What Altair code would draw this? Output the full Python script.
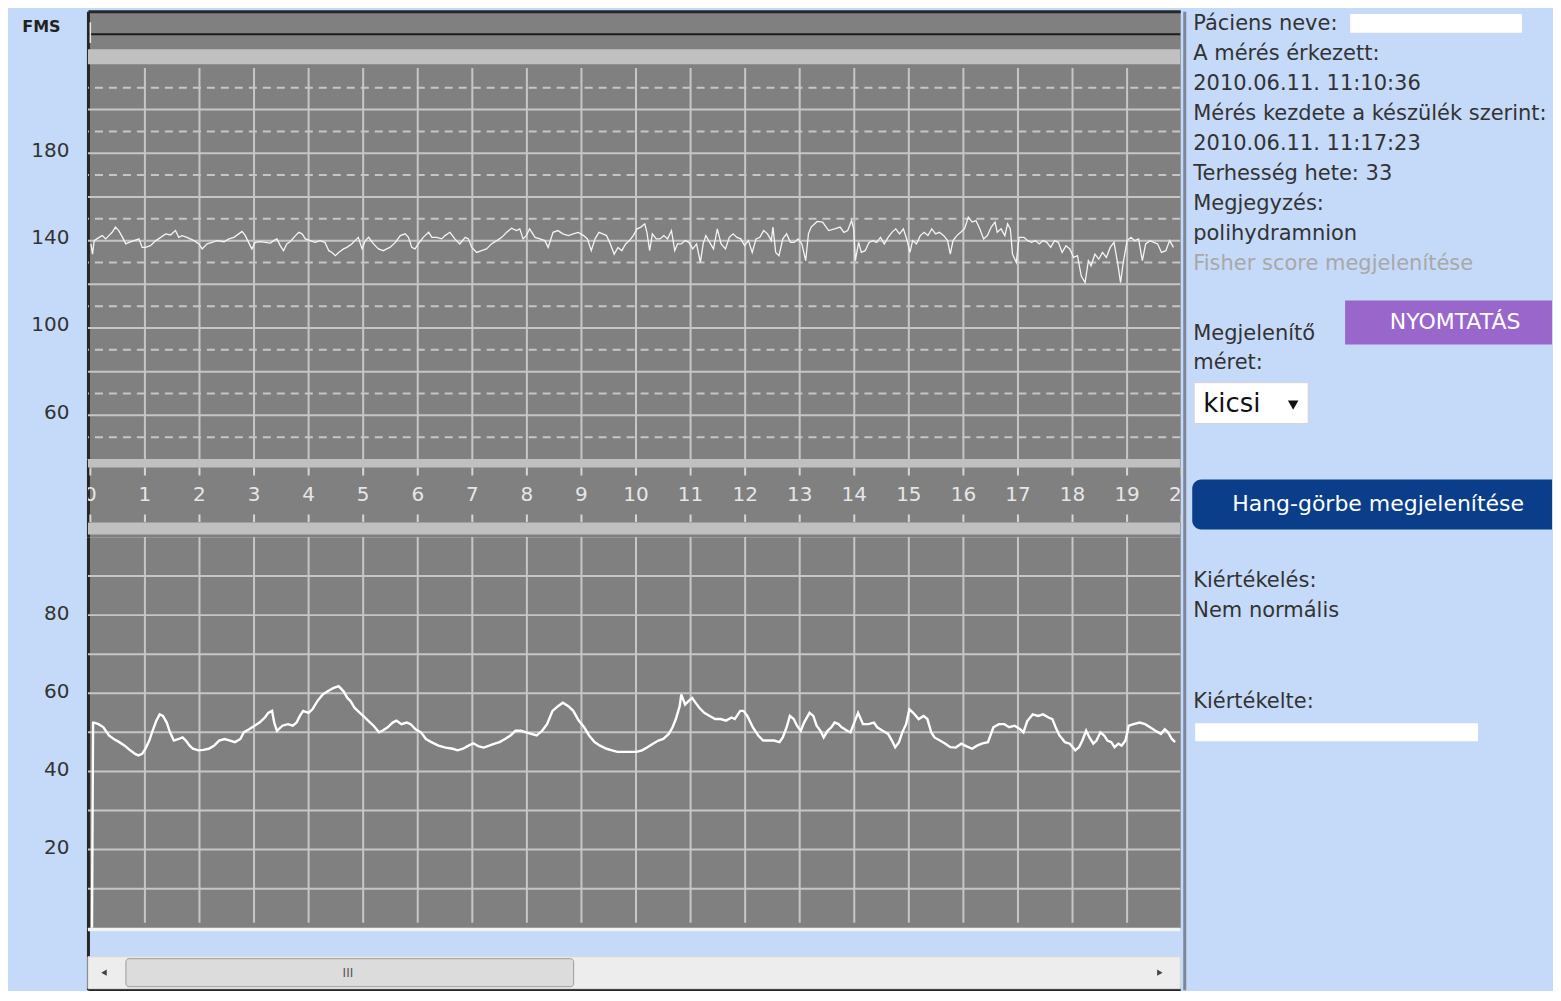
import altair as alt
import pandas as pd

# ---------------- data ----------------
# fetal heart rate trace: (minute, bpm)
fhr_trace = [
    (0.01, 138.5), (0.04, 133.8), (0.07, 140.0), (0.16, 141.5), (0.22, 142.3), (0.28, 140.8), (0.34, 142.3),
    (0.40, 143.8), (0.46, 146.2), (0.52, 144.6), (0.59, 141.5), (0.65, 138.5), (0.71, 139.2), (0.80, 140.0),
    (0.89, 140.8), (0.95, 136.9), (1.01, 136.9), (1.10, 137.7), (1.20, 140.0), (1.29, 141.5), (1.38, 143.1),
    (1.47, 142.6), (1.56, 144.6), (1.62, 141.5), (1.68, 142.3), (1.77, 141.5), (1.90, 140.0), (1.99, 138.5),
    (2.05, 136.2), (2.14, 138.5), (2.23, 139.2), (2.32, 140.0), (2.45, 139.5), (2.54, 140.8), (2.63, 141.5),
    (2.72, 143.1), (2.78, 144.2), (2.84, 142.3), (2.90, 139.2), (2.96, 136.2), (3.02, 139.2), (3.12, 139.5),
    (3.21, 139.2), (3.30, 138.9), (3.36, 140.0), (3.42, 140.8), (3.48, 137.7), (3.54, 135.4), (3.60, 138.5),
    (3.66, 139.5), (3.76, 142.3), (3.82, 143.8), (3.88, 143.1), (3.94, 140.8), (4.03, 140.0), (4.12, 139.2),
    (4.21, 140.0), (4.30, 139.2), (4.37, 135.4), (4.43, 134.6), (4.49, 133.1), (4.55, 134.6), (4.64, 136.2),
    (4.70, 136.9), (4.79, 138.5), (4.85, 140.0), (4.91, 141.5), (4.98, 136.2), (5.04, 140.0), (5.10, 141.5),
    (5.19, 138.5), (5.28, 136.2), (5.37, 135.4), (5.43, 136.2), (5.49, 136.9), (5.59, 139.2), (5.68, 142.3),
    (5.77, 143.1), (5.83, 141.5), (5.89, 136.9), (5.95, 136.2), (6.01, 138.5), (6.10, 141.5), (6.20, 143.8),
    (6.26, 141.5), (6.35, 141.5), (6.44, 140.8), (6.50, 142.3), (6.59, 143.8), (6.68, 140.8), (6.77, 138.5),
    (6.87, 141.5), (6.93, 140.8), (6.99, 136.9), (7.08, 134.6), (7.17, 135.4), (7.26, 136.2), (7.35, 138.5),
    (7.45, 140.0), (7.54, 141.5), (7.63, 143.8), (7.72, 145.7), (7.81, 144.6), (7.87, 145.4), (7.93, 140.8),
    (7.99, 142.3), (8.05, 145.4), (8.15, 141.5), (8.24, 140.8), (8.33, 140.0), (8.39, 136.9), (8.48, 143.8),
    (8.57, 144.6), (8.66, 143.1), (8.76, 142.3), (8.85, 143.1), (8.94, 143.8), (9.04, 142.3), (9.11, 140.8),
    (9.18, 135.4), (9.25, 140.8), (9.32, 143.8), (9.39, 143.1), (9.46, 142.3), (9.53, 138.5), (9.60, 133.8),
    (9.67, 136.9), (9.74, 135.4), (9.81, 138.5), (9.88, 140.0), (9.95, 142.3), (10.02, 145.4), (10.09, 146.2),
    (10.16, 147.7), (10.20, 143.8), (10.25, 135.4), (10.30, 143.1), (10.37, 140.8), (10.44, 140.8), (10.51, 142.3),
    (10.58, 140.8), (10.65, 144.6), (10.71, 135.4), (10.76, 138.5), (10.83, 138.5), (10.90, 140.0), (10.97, 139.2),
    (11.04, 136.2), (11.11, 138.5), (11.18, 130.0), (11.23, 138.5), (11.28, 142.3), (11.35, 139.2), (11.42, 136.2),
    (11.49, 145.4), (11.56, 138.5), (11.64, 136.2), (11.71, 141.5), (11.78, 143.1), (11.85, 141.5), (11.92, 140.8),
    (11.99, 137.7), (12.06, 140.0), (12.13, 134.6), (12.20, 140.8), (12.27, 141.5), (12.34, 144.6), (12.41, 143.1),
    (12.48, 140.0), (12.51, 146.2), (12.56, 134.6), (12.62, 133.1), (12.69, 140.8), (12.76, 143.1), (12.83, 139.2),
    (12.90, 139.2), (12.97, 140.8), (13.04, 138.5), (13.11, 130.8), (13.16, 143.1), (13.21, 146.2), (13.32, 148.8),
    (13.42, 148.5), (13.53, 144.6), (13.64, 145.4), (13.74, 146.2), (13.81, 143.8), (13.88, 144.6), (13.95, 149.2),
    (13.99, 145.4), (14.02, 130.8), (14.08, 139.2), (14.13, 134.6), (14.20, 135.4), (14.27, 139.2), (14.34, 140.0),
    (14.41, 139.2), (14.48, 141.5), (14.55, 138.5), (14.62, 141.5), (14.69, 143.8), (14.76, 145.4), (14.83, 143.1),
    (14.90, 145.4), (14.97, 140.0), (15.02, 134.6), (15.07, 140.0), (15.14, 138.5), (15.21, 142.3), (15.28, 143.8),
    (15.35, 142.3), (15.42, 145.4), (15.49, 143.1), (15.56, 143.8), (15.64, 142.3), (15.71, 140.0), (15.76, 133.8),
    (15.81, 140.0), (15.88, 142.3), (15.95, 143.8), (16.02, 145.4), (16.09, 150.8), (16.16, 148.5), (16.23, 149.2),
    (16.30, 145.4), (16.37, 140.8), (16.44, 142.3), (16.51, 146.2), (16.58, 148.5), (16.62, 143.8), (16.69, 145.4),
    (16.76, 142.3), (16.81, 147.7), (16.86, 145.4), (16.90, 133.8), (16.97, 130.0), (17.02, 141.5), (17.11, 141.5),
    (17.18, 140.0), (17.25, 139.2), (17.32, 140.0), (17.39, 138.5), (17.46, 140.0), (17.53, 139.2), (17.60, 136.9),
    (17.67, 140.0), (17.74, 139.2), (17.81, 134.6), (17.88, 137.7), (17.95, 136.2), (18.02, 132.3), (18.09, 133.1),
    (18.16, 123.8), (18.23, 120.8), (18.29, 130.8), (18.34, 128.5), (18.41, 133.8), (18.48, 131.5), (18.55, 134.6),
    (18.62, 132.3), (18.69, 136.9), (18.76, 139.2), (18.83, 129.2), (18.88, 120.8), (18.93, 130.0), (19.00, 140.0),
    (19.07, 141.5), (19.14, 140.0), (19.21, 140.8), (19.28, 130.8), (19.34, 138.5), (19.42, 140.0), (19.49, 139.2),
    (19.56, 138.5), (19.63, 134.6), (19.71, 135.4), (19.78, 140.0), (19.85, 136.9),
]

# uterine activity (toco) trace: (minute, value)
toco_trace = [
    (0.03, 0.0), (0.05, 52.5), (0.07, 52.5), (0.15, 52.1), (0.24, 51.3), (0.34, 49.2), (0.43, 48.3), (0.53, 47.5),
    (0.63, 46.6), (0.72, 45.5), (0.82, 44.5), (0.88, 44.1), (0.95, 44.5), (1.01, 45.8), (1.08, 47.9), (1.14, 50.4),
    (1.21, 53.0), (1.27, 54.6), (1.33, 54.2), (1.40, 52.5), (1.46, 50.0), (1.53, 47.9), (1.62, 48.3), (1.69, 48.7),
    (1.75, 47.9), (1.82, 46.6), (1.88, 45.8), (1.98, 45.4), (2.07, 45.5), (2.17, 45.8), (2.27, 46.6), (2.36, 47.9),
    (2.46, 48.3), (2.56, 47.9), (2.65, 47.5), (2.75, 48.3), (2.81, 50.0), (2.91, 50.8), (3.01, 51.7), (3.10, 52.5),
    (3.20, 53.8), (3.26, 55.0), (3.33, 55.5), (3.37, 52.5), (3.42, 50.4), (3.52, 51.7), (3.62, 52.1), (3.71, 51.7),
    (3.78, 52.5), (3.84, 54.2), (3.90, 55.5), (4.00, 55.0), (4.07, 55.9), (4.16, 58.0), (4.26, 59.7), (4.35, 60.5),
    (4.45, 61.3), (4.55, 61.8), (4.64, 60.5), (4.71, 58.8), (4.77, 58.0), (4.84, 56.3), (4.90, 55.5), (5.00, 54.2),
    (5.09, 53.0), (5.19, 51.7), (5.29, 50.0), (5.35, 50.4), (5.45, 51.3), (5.54, 52.5), (5.61, 53.0), (5.70, 52.1),
    (5.80, 52.5), (5.87, 52.1), (5.96, 50.8), (6.06, 50.0), (6.15, 48.3), (6.25, 47.5), (6.38, 46.6), (6.51, 46.1),
    (6.64, 45.8), (6.73, 45.4), (6.83, 45.8), (6.93, 46.6), (7.02, 47.2), (7.12, 46.4), (7.21, 46.1), (7.31, 46.6),
    (7.41, 47.1), (7.50, 47.5), (7.60, 48.3), (7.70, 49.2), (7.79, 50.4), (7.89, 50.4), (7.99, 50.0), (8.08, 49.6),
    (8.18, 49.2), (8.28, 50.4), (8.37, 52.1), (8.47, 55.5), (8.57, 56.7), (8.66, 57.6), (8.76, 56.7), (8.85, 55.5),
    (8.95, 53.0), (9.05, 51.3), (9.14, 49.2), (9.24, 47.5), (9.34, 46.6), (9.46, 45.8), (9.56, 45.4), (9.66, 45.0),
    (9.79, 45.0), (9.92, 45.0), (10.01, 45.0), (10.11, 45.4), (10.21, 46.2), (10.31, 47.1), (10.41, 47.9),
    (10.50, 48.3), (10.60, 49.6), (10.67, 51.3), (10.73, 53.4), (10.80, 56.7), (10.83, 59.7), (10.90, 57.1),
    (10.96, 58.0), (11.03, 58.8), (11.09, 57.6), (11.16, 56.3), (11.25, 55.0), (11.35, 54.2), (11.45, 53.4),
    (11.55, 53.4), (11.65, 53.0), (11.75, 53.8), (11.81, 53.4), (11.91, 55.5), (11.97, 55.5), (12.04, 54.2),
    (12.14, 51.3), (12.24, 49.2), (12.33, 47.9), (12.43, 47.9), (12.53, 47.9), (12.63, 47.5), (12.69, 48.7),
    (12.76, 51.3), (12.82, 54.2), (12.89, 53.4), (12.95, 51.7), (13.02, 50.4), (13.08, 52.5), (13.18, 55.0),
    (13.25, 54.2), (13.31, 51.7), (13.38, 50.4), (13.44, 48.7), (13.51, 50.4), (13.58, 51.3), (13.64, 52.5),
    (13.71, 52.1), (13.77, 51.3), (13.87, 50.4), (13.93, 50.0), (14.00, 52.5), (14.07, 55.0), (14.16, 52.1),
    (14.26, 52.1), (14.36, 52.5), (14.42, 51.3), (14.52, 50.4), (14.62, 49.6), (14.69, 47.9), (14.75, 46.2),
    (14.82, 47.5), (14.88, 50.0), (14.95, 52.1), (15.01, 55.9), (15.08, 55.0), (15.18, 53.4), (15.27, 54.2),
    (15.34, 53.4), (15.41, 50.0), (15.47, 48.7), (15.57, 47.9), (15.67, 47.1), (15.76, 46.2), (15.86, 46.1),
    (15.96, 47.1), (16.06, 46.4), (16.16, 45.8), (16.25, 46.6), (16.35, 47.2), (16.45, 47.5), (16.55, 51.3),
    (16.65, 52.1), (16.75, 52.1), (16.84, 51.3), (16.94, 51.7), (17.04, 50.8), (17.10, 50.0), (17.17, 52.9),
    (17.27, 54.6), (17.37, 54.2), (17.46, 54.6), (17.56, 53.8), (17.63, 53.4), (17.69, 51.3), (17.76, 49.2),
    (17.86, 47.5), (17.95, 47.1), (18.05, 45.4), (18.12, 46.2), (18.18, 47.9), (18.25, 50.4), (18.31, 48.7),
    (18.38, 47.1), (18.44, 47.9), (18.51, 50.0), (18.58, 49.2), (18.64, 47.9), (18.71, 47.5), (18.77, 46.2),
    (18.84, 47.1), (18.90, 46.6), (18.97, 47.9), (19.03, 51.7), (19.12, 52.1), (19.23, 52.5), (19.33, 52.1),
    (19.42, 51.3), (19.52, 50.4), (19.62, 49.6), (19.69, 50.8), (19.75, 50.0), (19.82, 48.3), (19.88, 47.5),
]

minute_labels = list(range(0, 21))
minute_lines = list(range(1, 20))
fhr_ticks = [60, 100, 140, 180]
fhr_solid = [60, 80, 100, 120, 140, 160, 180, 200]
fhr_dashed = [50, 70, 90, 110, 130, 150, 170, 190, 210]
toco_ticks = [20, 40, 60, 80]
toco_lines = [10, 20, 30, 40, 50, 60, 70, 80, 90]

info_text = [
    "Páciens neve:", "A mérés érkezett:", "2010.06.11. 11:10:36",
    "Mérés kezdete a készülék szerint:", "2010.06.11. 11:17:23",
    "Terhesség hete: 33", "Megjegyzés:", "polihydramnion",
    "Fisher score megjelenítése", "Megjelenítő", "méret:",
    "Kiértékelés:", "Nem normális", "Kiértékelte:",
]
info_rows = [0, 1, 2, 3, 4, 5, 6, 7, 8, 10.33, 11.33, 18.6, 19.6, 22.63]
button_text = ["NYOMTATÁS", "Hang-görbe megjelenítése"]

# ---------------- style ----------------
BG = "#C5DAF9"
GRAY = "#808080"
BAND = "#C0C0C0"
GRID = "#C6C6C6"
TXT = "#333333"
FONT = "DejaVu Sans"

X0, X1 = -0.044, 19.974
W = 1093
XS = alt.Scale(domain=[X0, X1], nice=False, zero=False)


def frame_axis(orient, color="#262626"):
    return alt.Axis(orient=orient, labels=False, ticks=False, grid=False, domain=True,
                    domainColor=color, domainWidth=3, title=None, minExtent=0, maxExtent=0)


def xe(field, axis):
    return alt.X(f"{field}:Q", scale=XS, axis=axis)


view_gray = alt.ViewBackground(fill=GRAY, stroke="transparent")

# ---------------- panel A : FHR ----------------
YA = alt.Scale(domain=[40, 245], nice=False, zero=False)
axA = alt.Axis(orient="left", values=fhr_ticks, title="FMS", grid=False, ticks=False,
               domain=True, domainColor="#262626", domainWidth=3,
               labelFont=FONT, labelFontSize=20, labelColor=TXT, labelPadding=19, labelOffset=-3,
               minExtent=79, maxExtent=79, titleAngle=0, titleX=-47, titleY=15,
               titleAlign="center", titleBaseline="middle", titleFont=FONT, titleFontSize=16,
               titleFontWeight="bold", titleColor="#222222")
xA = frame_axis("top")


def ya(field):
    return alt.Y(f"{field}:Q", scale=YA, axis=axA)


a_band = alt.Chart(pd.DataFrame({"x0": [X0], "x1": [X1], "y0": [220.8], "y1": [227.6]})).mark_rect(
    color=BAND).encode(x=xe("x0", xA), x2="x1:Q", y=ya("y0"), y2="y1:Q")
a_hline = alt.Chart(pd.DataFrame({"y": [234.5]})).mark_rule(color="#1c1c1c", strokeWidth=2).encode(y=ya("y"))
a_solid = alt.Chart(pd.DataFrame({"y": fhr_solid})).mark_rule(color=GRID, strokeWidth=2).encode(y=ya("y"))
a_dash = alt.Chart(pd.DataFrame({"y": fhr_dashed})).mark_rule(
    color=GRID, strokeWidth=2, strokeDash=[8, 6]).encode(y=ya("y"))
a_vl = alt.Chart(pd.DataFrame({"m": minute_lines, "lo": 40, "hi": 219})).mark_rule(
    color=GRID, strokeWidth=2).encode(x=xe("m", xA), y=ya("lo"), y2="hi:Q")
a_start = alt.Chart(pd.DataFrame({"m": [0.0], "lo": [230.5], "hi": [240.0]})).mark_rule(
    color="#e6e6e6", strokeWidth=1.5).encode(x=xe("m", xA), y=ya("lo"), y2="hi:Q")
df_fhr = pd.DataFrame(fhr_trace, columns=["m", "v"])
a_line = alt.Chart(df_fhr).mark_line(color="#F4F4F4", strokeWidth=1.3).encode(x=xe("m", xA), y=ya("v"))

panelA = alt.layer(a_band, a_hline, a_solid, a_dash, a_vl, a_start, a_line).properties(
    width=W, height=448, view=view_gray)

# ---------------- panel B : time strip ----------------
YB = alt.Scale(domain=[0, 78], nice=False, zero=False)
axB = frame_axis("left")


def yb(field):
    return alt.Y(f"{field}:Q", scale=YB, axis=axB)


b_bands = alt.Chart(pd.DataFrame({"x0": [X0, X0], "x1": [X1, X1], "y0": [69.5, 2.5], "y1": [78.0, 14.5]})).mark_rect(
    color=BAND).encode(x=xe("x0", None), x2="x1:Q", y=yb("y0"), y2="y1:Q")
tick_df = pd.DataFrame({
    "m": minute_labels * 2,
    "lo": [61.5] * len(minute_labels) + [15.0] * len(minute_labels),
    "hi": [69.5] * len(minute_labels) + [22.5] * len(minute_labels),
})
b_ticks = alt.Chart(tick_df).mark_rule(color="#D6D6D6", strokeWidth=2).encode(
    x=xe("m", None), y=yb("lo"), y2="hi:Q")
b_text = alt.Chart(pd.DataFrame({"m": minute_labels, "y": 41.5, "t": [str(v) for v in minute_labels]})).mark_text(
    font=FONT, fontSize=20, color="#E6E6E6", align="center", baseline="middle", clip=True).encode(
    x=xe("m", None), y=yb("y"), text="t:N")

panelB = alt.layer(b_bands, b_ticks, b_text).properties(width=W, height=78, view=view_gray)

# ---------------- panel C : toco ----------------
YC = alt.Scale(domain=[0, 100], nice=False, zero=False)
axC = alt.Axis(orient="left", values=toco_ticks, title=None, grid=False, ticks=False,
               domain=True, domainColor="#262626", domainWidth=3,
               labelFont=FONT, labelFontSize=20, labelColor=TXT, labelPadding=19, labelOffset=-2,
               minExtent=79, maxExtent=79)


def yc(field):
    return alt.Y(f"{field}:Q", scale=YC, axis=axC)


c_h = alt.Chart(pd.DataFrame({"y": toco_lines})).mark_rule(color=GRID, strokeWidth=2).encode(y=yc("y"))
c_v = alt.Chart(pd.DataFrame({"m": minute_lines, "lo": 1.3, "hi": 100})).mark_rule(
    color=GRID, strokeWidth=2).encode(x=xe("m", None), y=yc("lo"), y2="hi:Q")
df_toco = pd.DataFrame(toco_trace, columns=["m", "v"])
c_line = alt.Chart(df_toco).mark_line(color="#FFFFFF", strokeWidth=2.4).encode(x=xe("m", None), y=yc("v"))

panelC = alt.layer(c_h, c_v, c_line).properties(width=W, height=391, view=view_gray)

# ---------------- panel D : scrollbar strip ----------------
DH = 62
YD = alt.Scale(domain=[0, DH], nice=False, zero=False)
axD = frame_axis("left")
xD = frame_axis("bottom")


def yd(field):
    return alt.Y(f"{field}:Q", scale=YD, axis=axD)


d_white = alt.Chart(pd.DataFrame({"x0": [X0], "x1": [X1], "y0": [DH - 3.5], "y1": [DH]})).mark_rect(
    color="#F2F3F5").encode(x=xe("x0", xD), x2="x1:Q", y=yd("y0"), y2="y1:Q")
d_track = alt.Chart(pd.DataFrame({"x0": [X0], "x1": [X1], "y0": [1.0], "y1": [33.0]})).mark_rect(
    color="#EDEDED", stroke="#D8D8D8", strokeWidth=1).encode(x=xe("x0", xD), x2="x1:Q", y=yd("y0"), y2="y1:Q")
d_thumb = alt.Chart(pd.DataFrame({"x0": [0.652], "x1": [8.857], "y0": [3.0], "y1": [31.0]})).mark_rect(
    color="#DCDCDC", stroke="#9C9C9C", strokeWidth=1, cornerRadius=3).encode(
    x=xe("x0", xD), x2="x1:Q", y=yd("y0"), y2="y1:Q")
d_grip = alt.Chart(pd.DataFrame({"m": [4.72], "y": [17.0], "t": ["III"]})).mark_text(
    font=FONT, fontSize=12, color="#555555", baseline="middle").encode(x=xe("m", xD), y=yd("y"), text="t:N")
d_arrows = alt.Chart(pd.DataFrame({"m": [0.25, 19.6], "y": [17.0, 17.0],
                                   "s": ["triangle-left", "triangle-right"]})).mark_point(
    filled=True, color="#444444", size=40, opacity=1).encode(
    x=xe("m", xD), y=yd("y"), shape=alt.Shape("s:N", scale=None))

panelD = alt.layer(d_white, d_track, d_thumb, d_grip, d_arrows).properties(
    width=W, height=DH, view=alt.ViewBackground(fill="transparent", stroke="transparent"))

left = alt.vconcat(panelA, panelB, panelC, panelD, spacing=0, bounds="flush")

# ---------------- info panel ----------------
IW = 368
IH = 448 + 78 + 391 + DH
XI = alt.Scale(domain=[0, IW], nice=False, zero=False)
YI = alt.Scale(domain=[-0.4167, (IH - 12.5) / 30.0], nice=False, zero=False, reverse=True)
axI = frame_axis("left", "#7d8797")


def xi(field):
    return alt.X(f"{field}:Q", scale=XI, axis=None)


def yi(field):
    return alt.Y(f"{field}:Q", scale=YI, axis=axI)


left_texts = pd.DataFrame({
    "r": info_rows,
    "x": 9,
    "t": info_text,
    "c": [TXT] * 8 + ["#A8A8A8"] + [TXT] * 5,
})

i_rects_plain = alt.Chart(pd.DataFrame({
    "x0": [161, 166, 11], "x1": [IW, 338, 294], "y0": [9.23, -0.33, 23.33], "y1": [10.7, 0.3, 23.93],
    "c": ["#9966CC", "#FFFFFF", "#FFFFFF"],
})).mark_rect().encode(x=xi("x0"), x2="x1:Q", y=yi("y0"), y2="y1:Q", color=alt.Color("c:N", scale=None))
i_button = alt.Chart(pd.DataFrame({"x0": [8], "x1": [IW + 10], "y0": [15.2], "y1": [16.87]})).mark_rect(
    color="#0B3E8A", cornerRadius=9, clip=True).encode(x=xi("x0"), x2="x1:Q", y=yi("y0"), y2="y1:Q")
i_select = alt.Chart(pd.DataFrame({"x0": [10], "x1": [124], "y0": [11.97], "y1": [13.33]})).mark_rect(
    color="#FFFFFF", stroke="#D4D4D4", strokeWidth=1).encode(x=xi("x0"), x2="x1:Q", y=yi("y0"), y2="y1:Q")
i_arrow = alt.Chart(pd.DataFrame({"x": [109], "r": [12.72]})).mark_point(
    shape="triangle-down", filled=True, color="#111111", size=110, opacity=1).encode(x=xi("x"), y=yi("r"))
i_text = alt.Chart(left_texts).mark_text(font=FONT, fontSize=21, align="left", baseline="middle").encode(
    x=xi("x"), y=yi("r"), text="t:N", color=alt.Color("c:N", scale=None))
i_kicsi = alt.Chart(pd.DataFrame({"x": [19], "r": [12.67], "t": ["kicsi"]})).mark_text(
    font=FONT, fontSize=26, align="left", baseline="middle", color="#111111").encode(
    x=xi("x"), y=yi("r"), text="t:N")
i_btn_text = alt.Chart(pd.DataFrame({"x": [271, 194], "r": [9.93, 16.03], "t": button_text})).mark_text(
    font=FONT, fontSize=22, align="center", baseline="middle", color="#FFFFFF").encode(
    x=xi("x"), y=yi("r"), text="t:N")

info = alt.layer(i_rects_plain, i_button, i_select, i_arrow, i_text, i_kicsi, i_btn_text).properties(
    width=IW, height=IH)

chart = alt.hconcat(left, info, spacing=0).properties(
    background=BG, padding={"left": 0, "top": 2, "right": 0, "bottom": 0}
).configure_view(stroke="transparent")

chart.save("out.html", embed_options={"renderer": "svg", "actions": False})
